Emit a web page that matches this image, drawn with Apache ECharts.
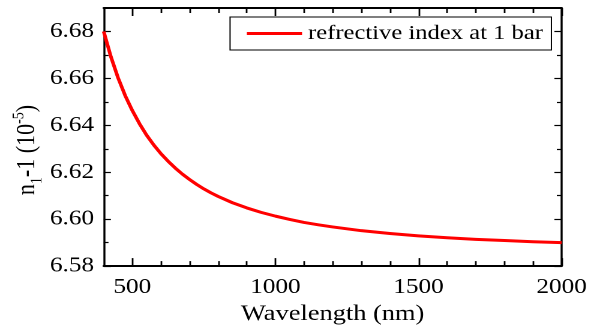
<!DOCTYPE html>
<html>
<head>
<meta charset="utf-8">
<script src="https://cdn.jsdelivr.net/npm/echarts@6/dist/echarts.min.js"></script>
<style>
  html, body { margin: 0; padding: 0; background: #fff; overflow: hidden; width: 592px; height: 330px; }
  /* the figure is laid out narrower and stretched horizontally */
  #chart { width: 493.333px; height: 330px; transform: scaleX(1.2); transform-origin: 0 0; }
</style>
</head>
<body>
<div id="chart"></div>
<script>
// Refractive index (n1 - 1, in units of 1e-5) versus wavelength at 1 bar
const wavelengths = [400, 425, 450, 475, 500, 525, 550, 575, 600, 625, 650, 675, 700, 725, 750, 775, 800,
                     850, 900, 950, 1000, 1050, 1100, 1150, 1200,
                     1300, 1400, 1500, 1600, 1700, 1800, 1900, 2000];
const indexValues = [6.6800, 6.6693, 6.6603, 6.6527, 6.6463, 6.6407, 6.6358, 6.6316, 6.6279, 6.6247, 6.6218,
                     6.6192, 6.6169, 6.6148, 6.6129, 6.6112, 6.6097,
                     6.6070, 6.6048, 6.6029, 6.6013, 6.5999, 6.5986, 6.5976, 6.5967,
                     6.5951, 6.5939, 6.5929, 6.5921, 6.5914, 6.5909, 6.5904, 6.5900];
const seriesName = 'refrective index at 1 bar';

// tick positions along each axis (every 100 nm / every 0.01); labelled ones are the majors
const xTickLabels = ['400', '500', '600', '700', '800', '900', '1000', '1100', '1200',
                     '1300', '1400', '1500', '1600', '1700', '1800', '1900', '2000'];
const yTickLabels = ['6.58', '6.59', '6.60', '6.61', '6.62', '6.63', '6.64', '6.65',
                     '6.66', '6.67', '6.68', '6.69'];
const xMajorStep = 500;
const yMajorEvery = 2;

const FONT = 'Liberation Serif';
const chart = echarts.init(document.getElementById('chart'), null, { renderer: 'canvas', devicePixelRatio: 2 });

const xIsMajor = (i, v) => Number(v) % xMajorStep === 0 && i > 0;
const xIsMinor = (i, v) => !xIsMajor(i, v) && i > 0 && i < xTickLabels.length - 1;
const yIsMajor = (i) => i % yMajorEvery === 0;
const yIsMinor = (i) => i % yMajorEvery === 1 && i < yTickLabels.length - 1;

function tickAxis(dim, position, pick, len, withLine, withLabels) {
  const vertical = dim === 'y';
  return {
    type: 'category', data: dim === 'x' ? xTickLabels : yTickLabels, boundaryGap: false,
    position: position,
    axisLine: { show: withLine, onZero: false, lineStyle: { color: '#000', width: vertical ? 1.7 : 2 } },
    axisTick: { show: true, inside: true, length: len, interval: pick,
                lineStyle: { color: '#000', width: vertical ? 1.2 : 1.4 } },
    axisLabel: withLabels
      ? { show: true, interval: pick, margin: vertical ? 8 : 11, fontSize: 21, fontFamily: FONT, color: '#000' }
      : { show: false },
    splitLine: { show: false }, axisPointer: { show: false }
  };
}

const xMain = tickAxis('x', 'bottom', xIsMajor, 8, true, true);
xMain.name = 'Wavelength (nm)';
xMain.nameLocation = 'middle';
xMain.nameGap = 28;
xMain.nameTextStyle = { fontSize: 22, fontFamily: FONT, color: '#000' };

chart.setOption({
  animation: false,
  backgroundColor: '#fff',
  grid: { left: 86.4, right: 25, top: 8, bottom: 63.3, containLabel: false },
  legend: {
    data: [seriesName], left: 191.7, top: 17, icon: 'rect', itemWidth: 46, itemHeight: 3,
    padding: [6, 7, 6, 14], borderColor: '#000', borderWidth: 1, backgroundColor: '#fff',
    textStyle: { fontSize: 20.5, fontFamily: FONT, color: '#000' }
  },
  xAxis: [
    // value axis that carries the curve
    { type: 'value', min: Number(xTickLabels[0]), max: Number(xTickLabels[xTickLabels.length - 1]), show: false },
    xMain,
    tickAxis('x', 'bottom', xIsMinor, 5, false, false),
    tickAxis('x', 'top', xIsMajor, 8, true, false),
    tickAxis('x', 'top', xIsMinor, 5, false, false)
  ],
  yAxis: [
    { type: 'value', min: Number(yTickLabels[0]), max: Number(yTickLabels[yTickLabels.length - 1]), show: false },
    tickAxis('y', 'left', yIsMajor, 6, true, true),
    tickAxis('y', 'left', yIsMinor, 4, false, false),
    tickAxis('y', 'right', yIsMajor, 6, true, false),
    tickAxis('y', 'right', yIsMinor, 4, false, false)
  ],
  graphic: [{
    type: 'text', x: 22.5, y: 150, rotation: Math.PI / 2,
    style: {
      text: '{n|n}{sub|1}{n|-1 (10}{sup|-5}{n|)}',
      align: 'center', verticalAlign: 'middle',
      rich: {
        n: { fontSize: 22, fontFamily: FONT, fill: '#000', lineHeight: 31, verticalAlign: 'middle' },
        sub: { fontSize: 14, fontFamily: FONT, fill: '#000', lineHeight: 31, verticalAlign: 'bottom' },
        sup: { fontSize: 14, fontFamily: FONT, fill: '#000', lineHeight: 14, verticalAlign: 'top', padding: [2, 0, 0, 0] }
      }
    }
  }],
  series: [{
    name: seriesName, type: 'line', xAxisIndex: 0, yAxisIndex: 0,
    data: wavelengths.map((w, i) => [w, indexValues[i]]),
    smooth: false, showSymbol: false, symbol: 'none',
    lineStyle: { color: '#ff0000', width: 3, join: 'round' }, itemStyle: { color: '#ff0000' }
  }]
});
</script>
</body>
</html>
